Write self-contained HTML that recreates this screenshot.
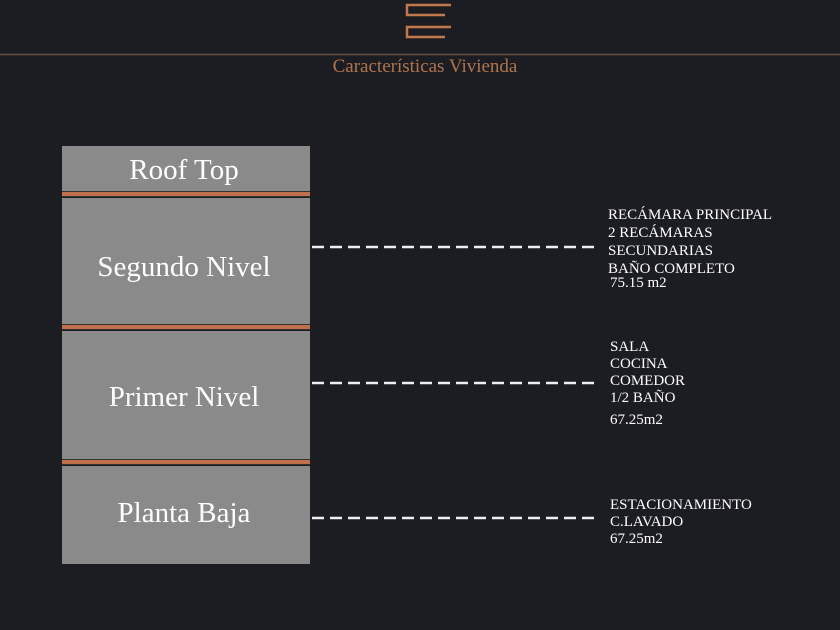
<!DOCTYPE html>
<html><head><meta charset="utf-8"><style>
body{margin:0;width:840px;height:630px;background:#1c1d22;overflow:hidden;position:relative;font-family:"Liberation Serif",serif}
.t{position:absolute;color:#fff;font-size:15px;line-height:17px;white-space:nowrap}
.box{position:absolute;left:62px;width:244px;padding-right:4px;background:#8a8a8a;color:#fff;text-align:center;font-size:29px}
.band{position:absolute;left:62px;width:248px;height:4px;background:#c0704a;border-top:1px solid #333;border-bottom:1px solid #333}
</style></head><body>
<svg width="840" height="630" style="position:absolute;left:0;top:0">
<path d="M451 5 H407 V15 H445 M451 27 H407 V37 H445" fill="none" stroke="#c0784c" stroke-width="2.5"/>
<line x1="0" y1="54.5" x2="840" y2="54.5" stroke="#6b5040" stroke-width="1.5"/>
<g stroke="#eee" stroke-width="2.5" stroke-dasharray="12 6">
<line x1="312" y1="247" x2="598" y2="247"/>
<line x1="312" y1="383" x2="598" y2="383"/>
<line x1="312" y1="518" x2="598" y2="518"/>
</g>
</svg>
<div style="position:absolute;left:0;width:850px;top:56px;text-align:center;color:#b0754c;font-size:19px">Características Vivienda</div>
<div class="box" style="top:146px;height:46px;line-height:48px">Roof Top</div>
<div class="band" style="top:191px"></div>
<div class="box" style="top:198px;height:127px;line-height:138px">Segundo Nivel</div>
<div class="band" style="top:324px"></div>
<div class="box" style="top:331px;height:129px;line-height:132px">Primer Nivel</div>
<div class="band" style="top:459px"></div>
<div class="box" style="top:466px;height:98px;line-height:94px">Planta Baja</div>
<div class="t" style="left:608px;top:206px;line-height:18px">RECÁMARA PRINCIPAL<br>2 RECÁMARAS<br>SECUNDARIAS<br>BAÑO COMPLETO</div>
<div class="t" style="left:610px;top:275px">75.15 m2</div>
<div class="t" style="left:610px;top:339px">SALA<br>COCINA<br>COMEDOR<br>1/2 BAÑO</div>
<div class="t" style="left:610px;top:412px">67.25m2</div>
<div class="t" style="left:610px;top:497px">ESTACIONAMIENTO<br>C.LAVADO<br>67.25m2</div>
</body></html>
